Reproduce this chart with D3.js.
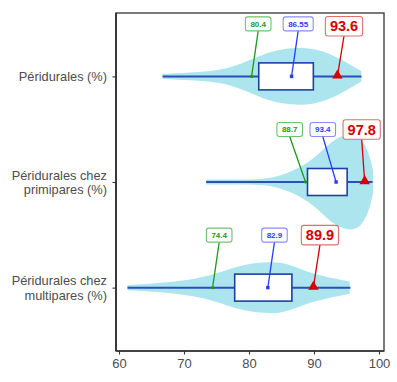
<!DOCTYPE html>
<html><head><meta charset="utf-8">
<script src="https://cdn.jsdelivr.net/npm/d3@7"></script>
<style>body{margin:0;background:#fff}svg{display:block}</style>
</head><body>
<svg id="c" width="397" height="382"></svg>
<script>
// ---- data ----
const categories = ["Péridurales (%)", "Péridurales chez\nprimipares (%)", "Péridurales chez\nmultipares (%)"];
const whiskerLow  = [66.7, 73.4, 61.3];
const q1          = [81.5, 89.0, 77.8];
const q3          = [89.9, 95.1, 86.6];
const whiskerHigh = [97.3, 99.0, 95.6];
const p25Values   = [80.4, 88.7, 74.4];      // green
const meanValues  = [86.55, 93.4, 82.9];     // blue
const targetValues= [93.6, 97.8, 89.9];      // red
const xTicks = [60, 70, 80, 90, 100];
// violin densities (relative) : [value, density]
const violin1 = [[66.7,0.05],[69,0.07],[72.5,0.09],[75,0.13],[76.6,0.17],[78.5,0.25],[80.2,0.34],[82.7,0.49],[85,0.57],[87.8,0.6],[90,0.57],[92,0.5],[94.5,0.33],[96.6,0.16],[97.3,0.11]];
const violin2 = [[73.4,0.05],[78,0.052],[82,0.058],[84,0.1],[86,0.19],[88,0.31],[90,0.5],[91.5,0.69],[93,0.875],[94.5,0.98],[96,1.0],[97.2,0.92],[98.2,0.69],[98.8,0.42],[99.1,0.21]];
const violin3 = [[61.3,0.056],[65,0.083],[69.9,0.14],[74,0.244],[77.6,0.417],[80,0.5],[83.2,0.54],[85,0.52],[86.8,0.45],[88.5,0.354],[90.4,0.277],[93,0.19],[95.5,0.125]];
const violins = [violin1, violin2, violin3];

// ---- layout ----
const W = 397, H = 382;
const panel = {left:116, right:384, top:13, bottom:351};
const svg = d3.select("#c");
const x = d3.scaleLinear().domain([60,100]).range([119,379]);
const y = d3.scalePoint().domain(d3.range(categories.length)).range([panel.top, panel.bottom]).padding(0.6);
const step = y.step();
const w = d3.scaleLinear().domain([0,1]).range([0, 48]);

const cBlueLine = "#2a50b8", cBox = "#1d3fa6", cViolin = "#ade5ef";
const cGreen = "#1d9a1d", cBlue = "#2a3cff", cRed = "#d40000";

// panel border
svg.append("rect").attr("x",panel.left).attr("y",panel.top)
  .attr("width",panel.right-panel.left).attr("height",panel.bottom-panel.top)
  .attr("fill","none").attr("stroke","#333").attr("stroke-width",1.3);

const g = svg.append("g");
categories.forEach((cat,i)=>{
  const cy = y(i);
  // violin
  const area = d3.area().x(d=>x(d[0])).y0(d=>cy - w(d[1])).y1(d=>cy + w(d[1])).curve(d3.curveBasis);
  g.append("path").datum(violins[i]).attr("d",area).attr("fill",cViolin);
  // whisker line
  g.append("line").attr("x1",x(whiskerLow[i])).attr("x2",x(whiskerHigh[i]))
    .attr("y1",cy).attr("y2",cy).attr("stroke",cBlueLine).attr("stroke-width",2);
  // box
  g.append("rect").attr("x",x(q1[i])).attr("y",cy-13.5).attr("width",x(q3[i])-x(q1[i])).attr("height",27)
    .attr("fill","#fff").attr("stroke",cBox).attr("stroke-width",1.6);
});

// labels with simple repel
const labelDefs = [];
categories.forEach((cat,i)=>{
  const cy = y(i);
  const items = [
    {v:p25Values[i], col:cGreen, border:"#6cc46c", fs:8, wbox:null, h:14, kind:"green"},
    {v:meanValues[i], col:cBlue, border:"#8a8cff", fs:8, h:14, kind:"blue"},
    {v:targetValues[i], col:cRed, border:"#e07070", fs:14.5, h:19.5, kind:"red"}
  ];
  items.forEach(it=>{
    it.text = String(it.v);
    it.cy = cy;
  });
  labelDefs.push(items);
});

const labG = svg.append("g");
labelDefs.forEach(items=>{
  // measure
  items.forEach(it=>{
    const t = labG.append("text").attr("font-family","Liberation Sans, Arial, sans-serif")
      .attr("font-weight","bold").attr("font-size",it.fs).text(it.text);
    const tw = t.node().getComputedTextLength();
    t.remove();
    it.bw = tw + (it.kind==="red" ? 9 : 10);
    it.lx = x(it.v) + 6.6;
    it.ly = it.cy - 52.5;
    const minTop = panel.top + 3.5;
    if (it.ly - it.h/2 < minTop) it.ly = minTop + it.h/2;
  });
  // right to left repel
  let limit = panel.right - 3.7;
  for (let k = items.length-1; k>=0; k--){
    const it = items[k];
    if (it.lx + it.bw/2 > limit) it.lx = limit - it.bw/2;
    limit = it.lx - it.bw/2 - 7.5;
  }
  items.forEach(it=>{
    const px = x(it.v), py = it.cy;
    labG.append("line").attr("x1",it.lx).attr("y1",it.ly+it.h/2).attr("x2",px).attr("y2",py)
      .attr("stroke",it.col).attr("stroke-width",1.3);
    labG.append("rect").attr("x",it.lx-it.bw/2).attr("y",it.ly-it.h/2).attr("width",it.bw).attr("height",it.h)
      .attr("rx",2.5).attr("fill","#fff").attr("stroke",it.border).attr("stroke-width",1.1);
    labG.append("text").attr("x",it.lx).attr("y",it.ly).attr("dy","0.36em").attr("text-anchor","middle")
      .attr("font-family","Liberation Sans, Arial, sans-serif").attr("font-weight","bold")
      .attr("font-size",it.fs).attr("fill",it.col).text(it.text);
    // markers
    if (it.kind==="green"){
      labG.append("circle").attr("cx",px).attr("cy",py).attr("r",1.6).attr("fill",it.col);
    } else if (it.kind==="blue"){
      labG.append("path").attr("transform",`translate(${px},${py})`).attr("d",d3.symbol(d3.symbolSquare,12)()).attr("fill",it.col);
    } else {
      labG.append("path").attr("transform",`translate(${px},${py-0.8})`).attr("d",d3.symbol(d3.symbolTriangle,48)()).attr("fill",it.col);
    }
  });
});

// x axis
const xAxis = svg.append("g").attr("transform",`translate(0,${panel.bottom})`)
  .call(d3.axisBottom(x).tickValues(xTicks).tickSize(3.5).tickPadding(4).tickFormat(d3.format("d")));
xAxis.select(".domain").attr("d",`M${panel.left},0H${panel.right}`).attr("stroke","#333").attr("stroke-width",1.5);
xAxis.selectAll(".tick line").attr("stroke","#333").attr("stroke-width",1.1);
xAxis.selectAll(".tick text").attr("font-family","Liberation Sans, Arial, sans-serif").attr("font-size",13).attr("fill","#4d4d4d");

// y axis
const yAxis = svg.append("g").attr("transform",`translate(${panel.left},0)`)
  .call(d3.axisLeft(y).tickSize(3.5).tickFormat(()=>""));
yAxis.select(".domain").attr("d",`M0,${panel.top}V${panel.bottom}`).attr("stroke","#333").attr("stroke-width",1.8);
yAxis.selectAll(".tick line").attr("stroke","#333").attr("stroke-width",1.1);
yAxis.selectAll(".tick").each(function(d){
  const lines = categories[d].split("\n");
  const t = d3.select(this).select("text").attr("x",-9).attr("dy",null)
    .attr("font-family","Liberation Sans, Arial, sans-serif").attr("font-size",12.8).attr("fill","#4d4d4d").attr("text-anchor","end");
  const lh = 14.6;
  const first = 4.6 - (lines.length-1)*lh/2;
  lines.forEach((ln,k)=>{
    t.append("tspan").attr("x",-9).attr("y",first + k*lh).text(ln);
  });
});
</script>
</body></html>
